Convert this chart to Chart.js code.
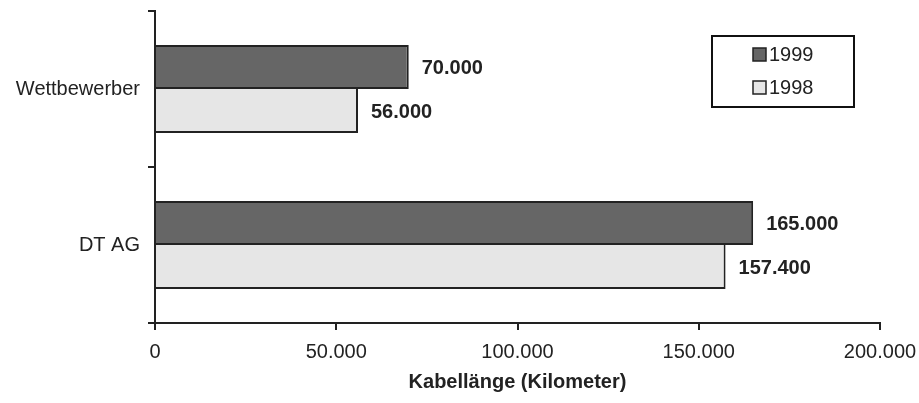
<!DOCTYPE html>
<html>
<head>
<meta charset="utf-8">
<script src="https://cdn.jsdelivr.net/npm/chart.js@4/dist/chart.umd.min.js"></script>
<style>
  html, body { margin: 0; padding: 0; background: #fff; }
  #wrap { width: 919px; height: 403px; }
</style>
</head>
<body>
<div id="wrap"><canvas id="cableChart" width="919" height="403"></canvas></div>
<script>
// Daten (Kabellänge in km)
const categories = ['Wettbewerber', 'DT AG'];
const years = ['1999', '1998'];
const values1999 = [70000, 165000];
const values1998 = [56000, 157400];
const xTicks = [0, 50000, 100000, 150000, 200000];
const axisTitle = 'Kabellänge (Kilometer)';

const FONT = '"Liberation Sans", Arial, sans-serif';
const INK = '#222';

function fmt(v) {
    return String(v).replace(/\B(?=(\d{3})+(?!\d))/g, '.');
}

// Werte rechts neben den Balken
const valueLabels = {
    id: 'valueLabels',
    afterDatasetsDraw(chart) {
        const ctx = chart.ctx;
        ctx.save();
        ctx.font = 'bold 20px ' + FONT;
        ctx.fillStyle = INK;
        ctx.textAlign = 'left';
        ctx.textBaseline = 'middle';
        chart.data.datasets.forEach((ds, i) => {
            chart.getDatasetMeta(i).data.forEach((bar, j) => {
                ctx.fillText(fmt(ds.data[j]), bar.x + 13, bar.y + 1);
            });
        });
        ctx.restore();
    }
};

// Legende mit Rahmen
const boxLegend = {
    id: 'boxLegend',
    afterDraw(chart) {
        const ctx = chart.ctx;
        ctx.save();
        ctx.lineWidth = 2;
        ctx.strokeStyle = '#111';
        ctx.strokeRect(712, 36, 142, 71);
        ctx.font = '20px ' + FONT;
        ctx.textBaseline = 'middle';
        chart.data.datasets.forEach((ds, i) => {
            let cy = 54 + i * 33;
            ctx.fillStyle = ds.backgroundColor;
            ctx.fillRect(753, cy - 6, 13, 13);
            ctx.lineWidth = 1.5;
            ctx.strokeStyle = INK;
            ctx.strokeRect(753, cy - 6, 13, 13);
            ctx.fillStyle = INK;
            ctx.fillText(ds.label, 769, cy + 1);
        });
        ctx.restore();
    }
};

new Chart(document.getElementById('cableChart').getContext('2d'), {
    type: 'bar',
    data: {
        labels: categories,
        datasets: [
            { label: years[0], data: values1999, backgroundColor: '#666666', borderColor: INK, borderWidth: { top: 2, left: 0, right: 2, bottom: 2 }, borderSkipped: false, inflateAmount: 0 },
            { label: years[1], data: values1998, backgroundColor: '#e6e6e6', borderColor: INK, borderWidth: { top: 0, left: 0, right: 2, bottom: 2 }, borderSkipped: false, inflateAmount: 0 }
        ]
    },
    options: {
        indexAxis: 'y',
        responsive: false,
        animation: false,
        layout: { padding: { top: 11, right: 39, left: 0, bottom: 0 } },
        datasets: { bar: { categoryPercentage: 88 / 156, barPercentage: 1 } },
        plugins: { legend: { display: false }, tooltip: { enabled: false } },
        scales: {
            x: {
                min: xTicks[0],
                max: xTicks[xTicks.length - 1],
                afterBuildTicks: s => { s.ticks = xTicks.map(v => ({ value: v })); },
                afterFit: s => { s.height = 80; s.paddingLeft = 0; s.paddingRight = 0; },
                border: { display: true, color: INK, width: 2 },
                grid: { drawOnChartArea: false, drawTicks: true, tickLength: 7, color: INK, lineWidth: 2 },
                ticks: { color: INK, font: { family: FONT, size: 20 }, padding: 10, callback: v => fmt(v), maxRotation: 0 },
                title: { display: true, text: axisTitle, color: INK, font: { family: FONT, size: 20, weight: 'bold' }, padding: { top: 0, bottom: 9 } }
            },
            y: {
                z: 1,
                afterFit: s => { s.width = 155; s.paddingTop = 0; s.paddingBottom = 0; },
                border: { display: true, color: INK, width: 2 },
                grid: { offset: true, drawOnChartArea: false, drawTicks: true, tickLength: 7, color: INK, lineWidth: 2 },
                ticks: { color: INK, font: { family: FONT, size: 20 }, padding: 8 }
            }
        }
    },
    plugins: [valueLabels, boxLegend]
});
</script>
</body>
</html>
